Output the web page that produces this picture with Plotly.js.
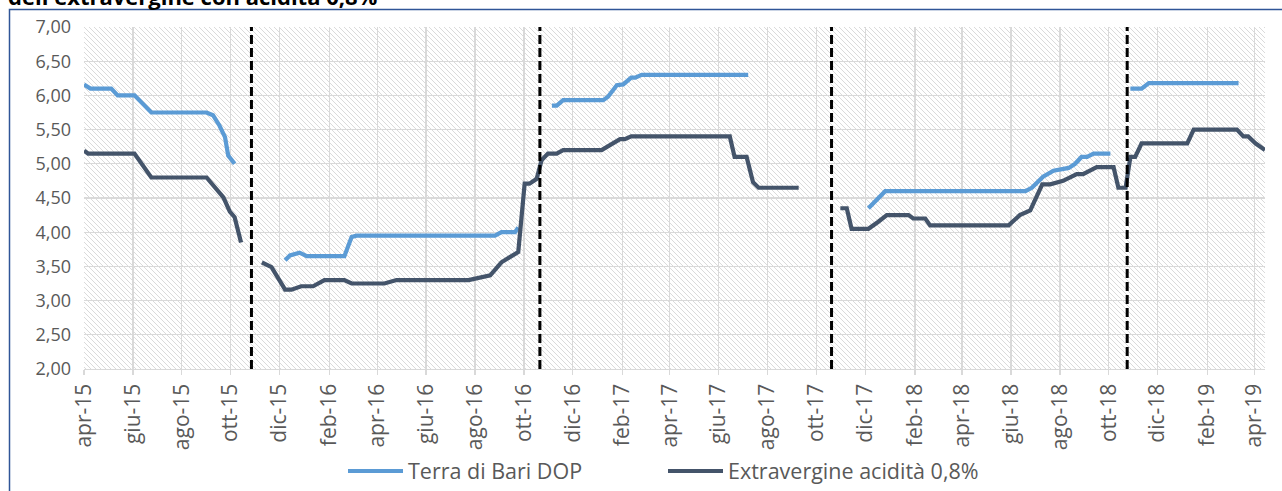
<!DOCTYPE html>
<html>
<head>
<meta charset="utf-8">
<script src="https://cdn.plot.ly/plotly-3.0.1.min.js"></script>
<style>
  html, body { margin: 0; padding: 0; background: #ffffff; }
  #chart { width: 1282px; height: 491px; }
</style>
</head>
<body>
<div id="chart"></div>
<script>
// ---- Data ----
const terraDates = [
  '2015-04-01','2015-04-09','2015-05-05','2015-05-13','2015-06-03','2015-06-18','2015-06-24',
  '2015-09-01','2015-09-09','2015-09-17','2015-09-24','2015-09-28','2015-10-06',
  '2015-11-01',
  '2015-12-08','2015-12-14','2015-12-26','2016-01-04','2016-02-20','2016-02-29','2016-03-06',
  '2016-08-26','2016-09-03','2016-09-20','2016-09-24',
  '2016-10-15',
  '2016-11-05','2016-11-11','2016-11-19','2017-01-08','2017-01-14','2017-01-25','2017-02-02',
  '2017-02-12','2017-02-17','2017-02-25','2017-07-08',
  '2017-10-01',
  '2017-12-05','2017-12-26','2018-06-19','2018-06-27','2018-07-11','2018-07-24','2018-08-12',
  '2018-08-20','2018-08-28','2018-09-04','2018-09-12','2018-10-03',
  '2018-10-15',
  '2018-10-28','2018-11-11','2018-11-20','2019-03-12'
];
const terraValues = [
  6.16,6.10,6.10,6.00,6.00,5.81,5.75,
  5.75,5.71,5.56,5.39,5.12,5.00,
  null,
  3.59,3.66,3.70,3.65,3.65,3.93,3.95,
  3.95,4.00,4.00,4.07,
  null,
  5.85,5.85,5.93,5.93,5.98,6.15,6.16,
  6.26,6.26,6.30,6.30,
  null,
  4.35,4.60,4.60,4.65,4.81,4.90,4.94,
  5.00,5.10,5.10,5.15,5.15,
  null,
  6.10,6.10,6.18,6.18
];

const extraDates = [
  '2015-04-01','2015-04-06','2015-06-03','2015-06-09','2015-06-24','2015-09-01','2015-09-09',
  '2015-09-22','2015-09-30','2015-10-06','2015-10-14',
  '2015-10-25',
  '2015-11-09','2015-11-21','2015-12-08','2015-12-16','2015-12-28','2016-01-12','2016-01-26',
  '2016-02-20','2016-02-29','2016-04-10','2016-04-25','2016-07-24','2016-08-20','2016-09-03',
  '2016-09-24','2016-10-02','2016-10-08','2016-10-17','2016-10-23','2016-10-31','2016-11-11',
  '2016-11-19','2017-01-06','2017-01-23','2017-01-29','2017-02-04','2017-02-12','2017-06-15',
  '2017-06-21','2017-07-06','2017-07-14','2017-07-21','2017-09-09',
  '2017-10-15',
  '2017-10-31','2017-11-08','2017-11-14','2017-12-05','2017-12-17','2017-12-28','2018-01-24',
  '2018-01-30','2018-02-14','2018-02-20','2018-05-29','2018-06-04','2018-06-12','2018-06-25',
  '2018-07-10','2018-07-20','2018-08-05','2018-08-22','2018-08-30','2018-09-16','2018-10-07',
  '2018-10-13','2018-10-22','2018-10-28','2018-11-03','2018-11-11','2019-01-07','2019-01-15',
  '2019-03-10','2019-03-18','2019-03-24','2019-04-02','2019-04-14'
];
const extraValues = [
  5.19,5.15,5.15,5.05,4.80,4.80,4.69,
  4.51,4.30,4.22,3.85,
  null,
  3.56,3.49,3.16,3.16,3.21,3.21,3.30,
  3.30,3.25,3.25,3.30,3.30,3.37,3.56,
  3.71,4.71,4.71,4.78,5.05,5.15,5.15,
  5.20,5.20,5.32,5.36,5.36,5.40,5.40,
  5.10,5.10,4.73,4.65,4.65,
  null,
  4.35,4.35,4.05,4.05,4.15,4.25,4.25,
  4.20,4.20,4.10,4.10,4.17,4.25,4.32,
  4.70,4.70,4.75,4.85,4.85,4.95,4.95,
  4.65,4.65,5.10,5.10,5.30,5.30,5.50,
  5.50,5.40,5.40,5.30,5.20
];

// Start of each olive-oil campaign (vertical dashed separators)
const campaignStarts = ['2015-10-27','2016-10-21','2017-10-20','2018-10-24'];

const seriesNames = ['Terra di Bari DOP', 'Extravergine acidità 0,8%'];

const tickDates = [
  '2015-04-01','2015-06-01','2015-08-01','2015-10-01','2015-12-01',
  '2016-02-01','2016-04-01','2016-06-01','2016-08-01','2016-10-01','2016-12-01',
  '2017-02-01','2017-04-01','2017-06-01','2017-08-01','2017-10-01','2017-12-01',
  '2018-02-01','2018-04-01','2018-06-01','2018-08-01','2018-10-01','2018-12-01',
  '2019-02-01','2019-04-01'
];
const tickLabels = [
  'apr-15','giu-15','ago-15','ott-15','dic-15',
  'feb-16','apr-16','giu-16','ago-16','ott-16','dic-16',
  'feb-17','apr-17','giu-17','ago-17','ott-17','dic-17',
  'feb-18','apr-18','giu-18','ago-18','ott-18','dic-18',
  'feb-19','apr-19'
];

const titleTail = "dell'extravergine con acidità 0,8%";

// ---- Layout geometry ----
const W = 1282, H = 491;
const M = { l: 84, r: 17, t: 27, b: 122, autoexpand: false };
const PW = W - M.l - M.r, PH = H - M.t - M.b;
const px2paperX = px => (px - M.l) / PW;
const px2paperY = py => 1 - (py - M.t) / PH;

const FONT = '"Open Sans", "Noto Sans", sans-serif';
const GRAY = '#595959';

// Diagonal hatch used as plot background
const hatchSvg =
  '<svg xmlns="http://www.w3.org/2000/svg" width="' + PW + '" height="' + PH + '">' +
  '<defs><pattern id="h" width="5" height="5" patternUnits="userSpaceOnUse">' +
  '<path d="M-1,-1 L6,6 M-1,4 L1,6 M4,-1 L6,1" stroke="#dadada" stroke-width="1"/>' +
  '</pattern></defs><rect width="100%" height="100%" fill="#ffffff"/>' +
  '<rect width="100%" height="100%" fill="url(#h)"/></svg>';

const traces = [
  {
    type: 'scatter', mode: 'lines', name: seriesNames[0],
    x: terraDates, y: terraValues, connectgaps: false,
    line: { color: '#5B9BD5', width: 4.2 }
  },
  {
    type: 'scatter', mode: 'lines', name: seriesNames[1],
    x: extraDates, y: extraValues, connectgaps: false,
    line: { color: '#44546A', width: 4.2 }
  }
];

const shapes = campaignStarts.map(d => ({
  type: 'line', xref: 'x', yref: 'paper', x0: d, x1: d, y0: 0, y1: 1,
  line: { color: '#000000', width: 3, dash: '9px,4px' }, layer: 'above'
}));
// outer chart frame
shapes.push({
  type: 'rect', xref: 'paper', yref: 'paper',
  x0: px2paperX(9.5), x1: px2paperX(1300), y0: px2paperY(9.5), y1: px2paperY(520),
  line: { color: '#2F5597', width: 1.5 }, fillcolor: 'rgba(0,0,0,0)', layer: 'above'
});

const layout = {
  width: W, height: H,
  margin: M,
  paper_bgcolor: '#ffffff', plot_bgcolor: 'rgba(0,0,0,0)',
  separators: ',.',
  font: { family: FONT, color: GRAY, size: 18 },
  showlegend: true,
  legend: {
    orientation: 'h', x: px2paperX(343), xanchor: 'left', y: px2paperY(471), yanchor: 'middle',
    font: { family: FONT, size: 21.5, color: GRAY }, itemwidth: 55,
    entrywidth: 250, entrywidthmode: 'pixels',
    bgcolor: 'rgba(0,0,0,0)'
  },
  xaxis: {
    type: 'date', range: ['2015-04-01', '2019-04-14'],
    tickvals: tickDates, ticktext: tickLabels, tickangle: -90,
    showgrid: true, gridcolor: '#d9d9d9', gridwidth: 1.3,
    showline: true, linecolor: '#d9d9d9', linewidth: 1.3,
    ticks: 'outside', ticklen: 5, tickcolor: '#d9d9d9', tickwidth: 1.3,
    tickfont: { family: FONT, size: 21, color: GRAY },
    zeroline: false, fixedrange: true, automargin: false
  },
  yaxis: {
    range: [2, 7], dtick: 0.5, tick0: 2, tickformat: '.2f',
    showgrid: true, gridcolor: '#d9d9d9', gridwidth: 1.3,
    showline: false, zeroline: false, ticks: '',
    ticklabelstandoff: 12, automargin: false,
    tickfont: { family: FONT, size: 18, color: GRAY }, fixedrange: true
  },
  images: [{
    source: 'data:image/svg+xml;charset=utf-8,' + encodeURIComponent(hatchSvg),
    xref: 'paper', yref: 'paper', x: 0, y: 1, sizex: 1, sizey: 1,
    xanchor: 'left', yanchor: 'top', sizing: 'stretch', layer: 'below'
  }],
  shapes: shapes,
  annotations: [{
    text: '<b>' + titleTail + '</b>', xref: 'paper', yref: 'paper',
    x: px2paperX(6), xanchor: 'left', y: px2paperY(13), yanchor: 'bottom',
    showarrow: false, font: { family: FONT, size: 22, color: '#000000' }
  }]
};

Plotly.newPlot('chart', traces, layout, { displayModeBar: false, staticPlot: true });
</script>
</body>
</html>
